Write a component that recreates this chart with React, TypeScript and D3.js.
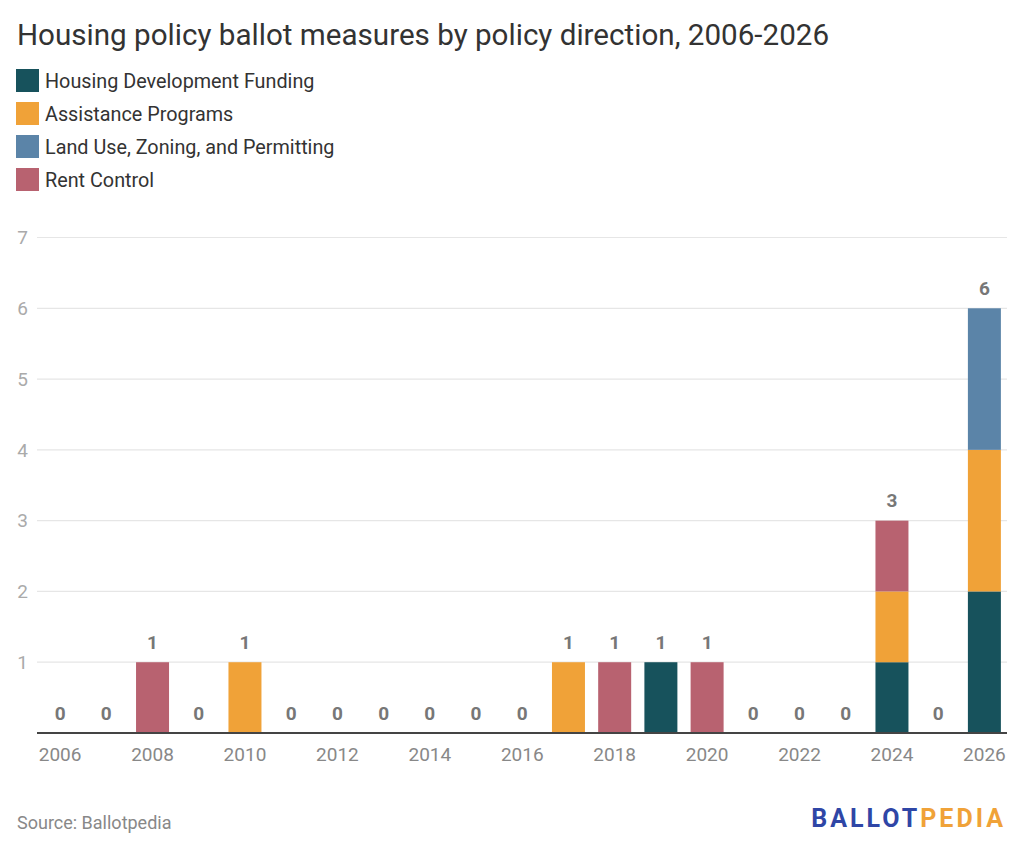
import { useRef, useEffect } from 'react';
import * as d3 from 'd3';

const years = d3.range(2006, 2027).map(String);
const seriesNames = [
  'Housing Development Funding',
  'Assistance Programs',
  'Land Use, Zoning, and Permitting',
  'Rent Control',
];
const seriesColors = ['#17525c', '#f0a238', '#5b84a8', '#b86270'];

// one value per year, 2006 .. 2026
const housingDevelopment = [0, 0, 0, 0, 0, 0, 0, 0, 0, 0, 0, 0, 0, 1, 0, 0, 0, 0, 1, 0, 2];
const assistancePrograms = [0, 0, 0, 0, 1, 0, 0, 0, 0, 0, 0, 1, 0, 0, 0, 0, 0, 0, 1, 0, 2];
const landUse = [0, 0, 0, 0, 0, 0, 0, 0, 0, 0, 0, 0, 0, 0, 0, 0, 0, 0, 0, 0, 2];
const rentControl = [0, 0, 1, 0, 0, 0, 0, 0, 0, 0, 0, 0, 1, 0, 1, 0, 0, 0, 1, 0, 0];

const yTicks = [1, 2, 3, 4, 5, 6, 7];
const xTickLabels = ['2006', '2008', '2010', '2012', '2014', '2016', '2018', '2020', '2022', '2024', '2026'];

const width = 1024;
const height = 852;
const font = 'Roboto, "Noto Sans", sans-serif';

export default function App() {
  const svgRef = useRef<SVGSVGElement | null>(null);

  useEffect(() => {
    const svg = d3.select(svgRef.current);
    svg.selectAll('*').remove();

    const rows = years.map((year, i) => ({
      year,
      [seriesNames[0]]: housingDevelopment[i],
      [seriesNames[1]]: assistancePrograms[i],
      [seriesNames[2]]: landUse[i],
      [seriesNames[3]]: rentControl[i],
    }));
    const totals = years.map((_, i) =>
      housingDevelopment[i] + assistancePrograms[i] + landUse[i] + rentControl[i]);

    const x = d3.scaleBand<string>()
      .domain(years)
      .range([37, 1007.5])
      .paddingInner(0.286)
      .paddingOuter(0.143);

    const y = d3.scaleLinear()
      .domain([0, 7])
      .range([733, 237.5]);

    // title
    svg.append('text')
      .attr('x', 17)
      .attr('y', 45)
      .attr('font-family', font)
      .attr('font-size', 29.6)
      .attr('fill', '#333')
      .text('Housing policy ballot measures by policy direction, 2006-2026');

    // legend
    const legend = svg.append('g');
    seriesNames.forEach((name, i) => {
      const row = legend.append('g').attr('transform', `translate(16, ${69 + i * 33})`);
      row.append('rect')
        .attr('width', 23)
        .attr('height', 23)
        .attr('fill', seriesColors[i]);
      row.append('text')
        .attr('x', 29)
        .attr('y', 19)
        .attr('font-family', font)
        .attr('font-size', 19.8)
        .attr('fill', '#333')
        .text(name);
    });

    // grid + y labels
    const grid = svg.append('g');
    yTicks.forEach((t) => {
      grid.append('line')
        .attr('x1', 37)
        .attr('x2', 1007)
        .attr('y1', y(t))
        .attr('y2', y(t))
        .attr('stroke', '#e6e6e6')
        .attr('stroke-width', 1.2);
      grid.append('text')
        .attr('x', 28)
        .attr('y', y(t))
        .attr('dy', '0.35em')
        .attr('text-anchor', 'end')
        .attr('font-family', font)
        .attr('font-size', 19)
        .attr('fill', '#aaa')
        .text(t);
    });

    // stacked bars
    const stack = d3.stack<any>().keys(seriesNames);
    const layers = stack(rows);
    layers.forEach((layer, li) => {
      svg.append('g')
        .attr('fill', seriesColors[li])
        .selectAll('rect')
        .data(layer.filter((d) => d[1] > d[0]))
        .join('rect')
        .attr('x', (d) => x(d.data.year)!)
        .attr('y', (d) => y(d[1]))
        .attr('width', x.bandwidth())
        .attr('height', (d) => y(d[0]) - y(d[1]));
    });

    // total labels
    svg.append('g')
      .selectAll('text')
      .data(years)
      .join('text')
      .attr('x', (d) => x(d)! + x.bandwidth() / 2)
      .attr('y', (_, i) => y(totals[i]) - 13.5)
      .attr('text-anchor', 'middle')
      .attr('font-family', font)
      .attr('font-size', 19)
      .attr('font-weight', 'bold')
      .attr('fill', '#777')
      .text((_, i) => totals[i]);

    // baseline
    svg.append('line')
      .attr('x1', 37)
      .attr('x2', 1007)
      .attr('y1', y(0))
      .attr('y2', y(0))
      .attr('stroke', '#444')
      .attr('stroke-width', 2);

    // x labels
    svg.append('g')
      .selectAll('text')
      .data(xTickLabels)
      .join('text')
      .attr('x', (d) => x(d)! + x.bandwidth() / 2)
      .attr('y', 761)
      .attr('text-anchor', 'middle')
      .attr('font-family', font)
      .attr('font-size', 19)
      .attr('fill', '#888')
      .text((d) => d);

    // footer
    svg.append('text')
      .attr('x', 17)
      .attr('y', 829)
      .attr('font-family', font)
      .attr('font-size', 18)
      .attr('fill', '#888')
      .text('Source: Ballotpedia');

    const logo = svg.append('text')
      .attr('x', 1006)
      .attr('y', 827)
      .attr('text-anchor', 'end')
      .attr('font-family', font)
      .attr('font-size', 25)
      .attr('font-weight', 'bold')
      .attr('letter-spacing', 3);
    logo.append('tspan').attr('fill', '#2f46a6').text('BALLOT');
    logo.append('tspan').attr('fill', '#f0a238').text('PEDIA');
  }, []);

  return (
    <svg
      ref={svgRef}
      width={width}
      height={height}
      style={{ display: 'block', position: 'absolute', left: 0, top: 0, background: '#fff' }}
    />
  );
}
